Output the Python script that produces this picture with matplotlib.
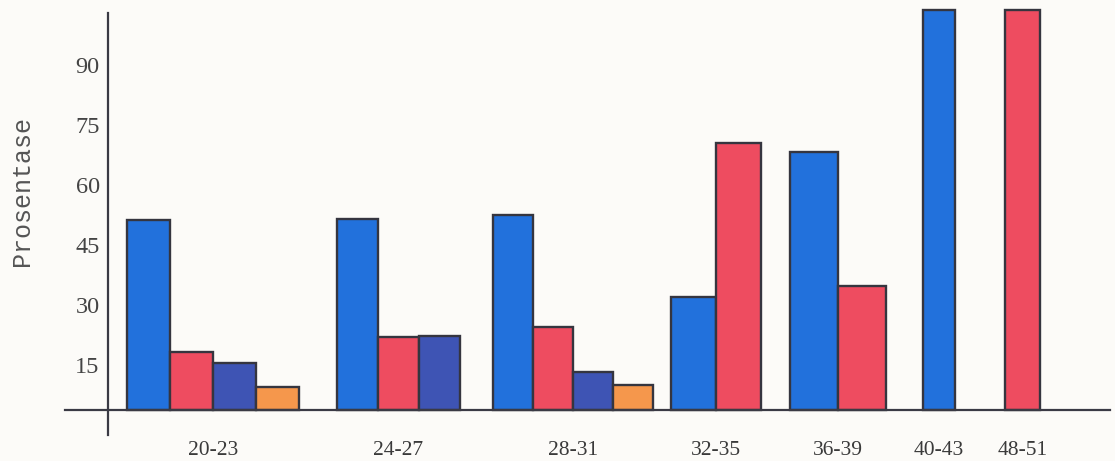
import numpy as np
import matplotlib.pyplot as plt
import matplotlib.transforms as mtransforms

# Age groups and percentage per series (None = no bar in that group)
age_groups = ['20-23', '24-27', '28-31', '32-35', '36-39', '40-43', '48-51']
blue_vals = [47.5, 47.75, 48.75, 28.25, 64.5, 100, None]
red_vals = [14.5, 18.25, 20.75, 66.75, 31, None, 100]
navy_vals = [11.75, 18.5, 9.5, None, None, None, None]
orange_vals = [5.75, None, 6.25, None, None, None, None]
yticks = [15, 30, 45, 60, 75, 90]

series = [blue_vals, red_vals, navy_vals, orange_vals]
colors = ['#2271dc', '#ee4c60', '#3e54b4', '#f5974c']

# group layout along x (figure-pixel units) and bar width per group
group_left = [127, 337, 493, 671, 790, 923, 1005]
bar_w = [43, 41, 40, 45, 48, 32, 35]

W, H = 1115, 461
fig = plt.figure(figsize=(W / 100, H / 100), dpi=100)
fig.patch.set_facecolor('#fcfbf8')

# axes box: x 65..1110 px, y 10..435 px
ax = fig.add_axes([65 / W, (H - 435) / H, (1110 - 65) / W, (435 - 10) / H])
ax.set_facecolor('none')
ax.set_xlim(65, 1110)
ax.set_ylim(-6.25, 100)

centers = []
for g in range(len(age_groups)):
    x = group_left[g]
    n = 0
    for s, vals in enumerate(series):
        v = vals[g]
        if v is None:
            continue
        ax.bar(x + n * bar_w[g], v, width=bar_w[g], align='edge',
               color=colors[s], edgecolor='#35353f', linewidth=1.7,
               clip_on=False, zorder=2)
        n += 1
    centers.append(x + n * bar_w[g] / 2)

for side in ['top', 'right']:
    ax.spines[side].set_visible(False)
ax.spines['left'].set_position(('data', 108))
ax.spines['left'].set_bounds(-6.25, 99.25)
ax.spines['bottom'].set_position(('data', 0))
for side in ['left', 'bottom']:
    ax.spines[side].set_color('#3a3a44')
    ax.spines[side].set_linewidth(1.6)
    ax.spines[side].set_zorder(3)

ax.set_yticks(yticks)
ax.set_yticklabels([str(t) for t in yticks], family='Liberation Serif',
                   fontsize=17.5, color='#444444')
ax.tick_params(axis='y', length=0, pad=6)
# labels sit a little below their grid value
shift = mtransforms.ScaledTranslation(0, -15 / 100, fig.dpi_scale_trans)
for lab in ax.get_yticklabels():
    lab.set_transform(lab.get_transform() + shift)

ax.set_xticks(centers)
ax.set_xticklabels(age_groups, family='Liberation Serif', fontsize=15.5,
                   color='#3a3a3a')
ax.tick_params(axis='x', length=0, pad=22)

fig.text(22 / W, 1 - 191 / H, 'Prosentase', rotation=90, ha='center',
         va='center', family='Liberation Mono', fontsize=18, color='#555555')

fig.savefig('out.png', dpi=100, facecolor=fig.get_facecolor())
